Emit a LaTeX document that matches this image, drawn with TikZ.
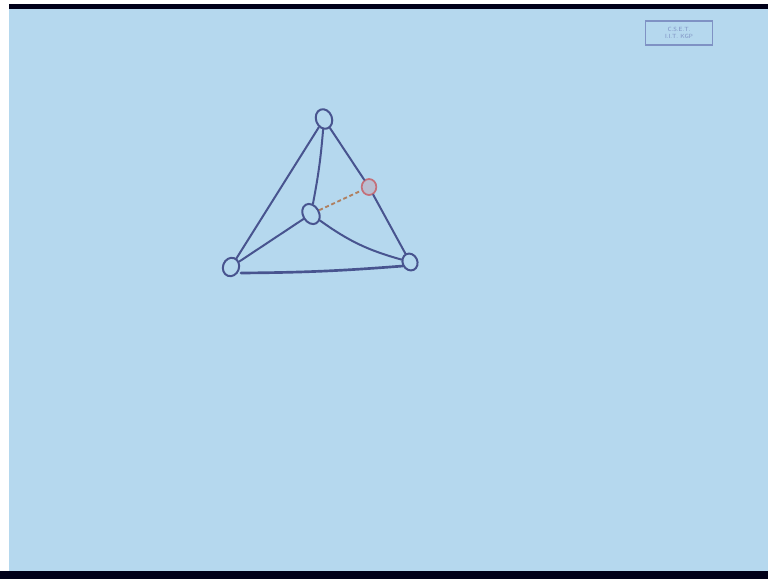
\documentclass[tikz,border=0pt]{standalone}
\usetikzlibrary{shapes.geometric}
\definecolor{bg}{HTML}{B5D8EE}
\definecolor{ink}{HTML}{48548F}
\definecolor{redn}{HTML}{C4707A}
\definecolor{dashc}{HTML}{B08060}
\definecolor{tag}{HTML}{7F92C4}
\begin{document}
\begin{tikzpicture}[x=0.75pt,y=-0.75pt,
  vtx/.style={ellipse,draw=ink,line width=1.5pt,fill=bg,inner sep=0pt},
  edge/.style={draw=ink,line width=1.5pt,line cap=round}]
\fill[white] (0,0) rectangle (768,579);
\fill[bg] (9,9) rectangle (768,571);
\fill[black!90!blue] (9,4) rectangle (768,9);
\fill[black!90!blue] (0,571) rectangle (768,579);
\useasboundingbox (0,0) rectangle (768,579);
% tag
\node[draw=tag,line width=0.8pt,minimum width=50pt,minimum height=18pt,inner sep=1pt,text=tag,font=\fontsize{4.5}{5}\selectfont\sffamily,align=center] (tag) at (679,33) {C.S.E.T.\\I.I.T. KGP};
% vertices
\node[vtx,minimum width=12pt,minimum height=15pt,rotate=20] (t) at (324,119) {};
\node[vtx,minimum width=12pt,minimum height=16pt,rotate=30] (c) at (311,214) {};
\node[vtx,minimum width=12pt,minimum height=14pt,rotate=-20] (bl) at (231,267) {};
\node[vtx,minimum width=11pt,minimum height=13pt,rotate=25] (br) at (410,262) {};
\node[ellipse,draw=redn,line width=1.3pt,fill=redn!25!bg,minimum width=11pt,minimum height=12pt,inner sep=0pt] (r) at (369,187) {};
% edges
\draw[edge] (t) -- (bl);
\draw[edge] (t) -- (r);
\draw[edge] (r) -- (br);
\draw[edge] (t) to[bend left=3] (c);
\draw[edge] (c) -- (bl);
\draw[edge] (c) to[bend right=10] (br);
\coordinate (b1) at (241,273);
\coordinate (b2) at (403,266);
\draw[edge,line width=2pt] (b1) to[bend right=2] (b2);
\draw[dashc,line width=1.4pt,dashed,dash pattern=on 3pt off 2pt] (c) -- (r);
\end{tikzpicture}
\end{document}
